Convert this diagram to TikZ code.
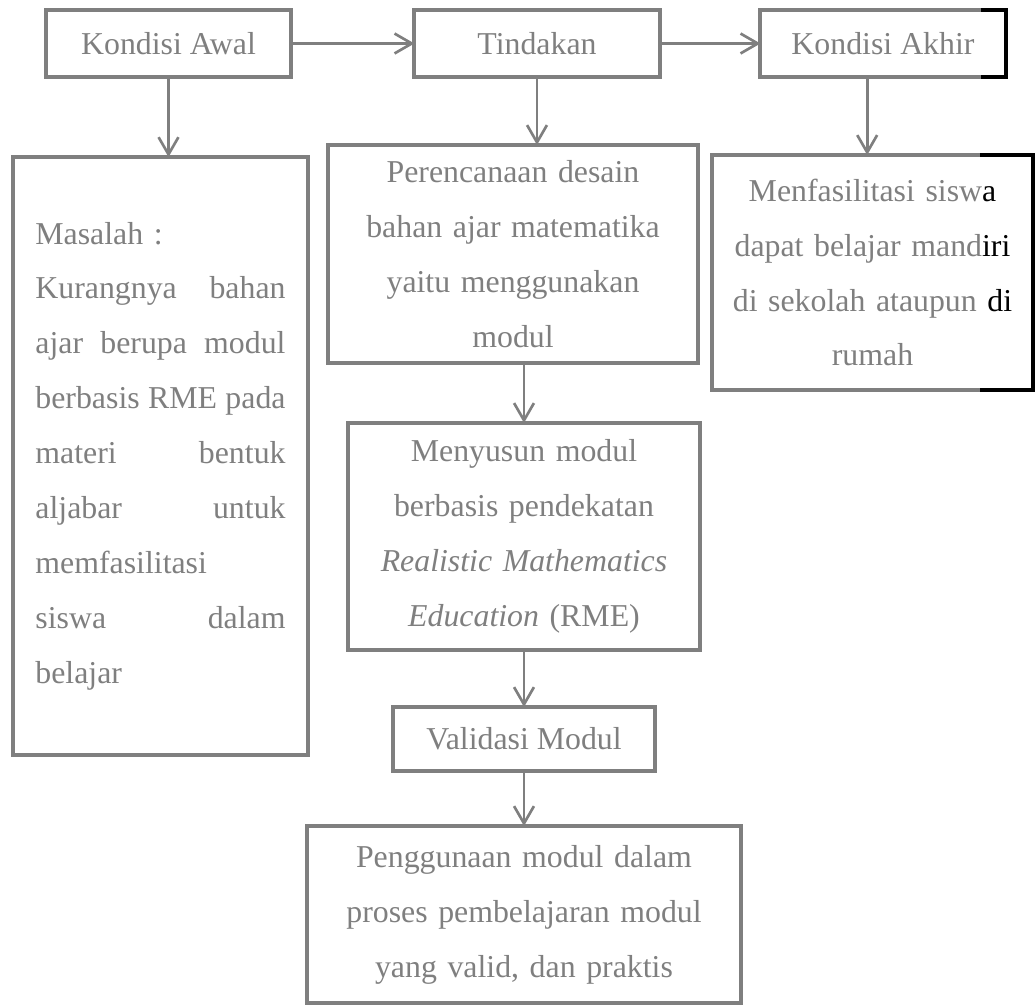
\documentclass[tikz,border=0pt]{standalone}
\usepackage{fontspec}
\setmainfont{Liberation Serif}
\usetikzlibrary{arrows.meta}
\definecolor{abu}{RGB}{127,127,127}
\tikzset{
    block/.style = {draw=abu,
                    rectangle,
                    line width=1.5pt,
                    outer sep=0pt,
                    text=abu,
                    align=center,
                    font=\fontsize{12}{20.7}\selectfont
    },
    panah/.style = {draw=abu, line width=1pt, ->}
}
\newcommand{\rata}[1]{\leavevmode\hbox to 94.3pt{#1}}

\begin{document}
\begin{tikzpicture}[x=0.377pt, y=-0.377pt, >={Straight Barb[length=6.5pt,width=7.5pt]}]
    \useasboundingbox (0,0) rectangle (1035,1007);

    \node [block, minimum width=92.4pt, minimum height=24.9pt] (awal)     at (168.5,43.5) {Kondisi Awal};
    \node [block, minimum width=92.4pt, minimum height=24.9pt] (tindakan) at (537,43.5)   {Tindakan};
    \node [block, minimum width=92.4pt, minimum height=24.9pt] (akhir)    at (883,43.5)   {Kondisi Akhir};

    \node [block, minimum width=111.2pt, minimum height=225.4pt, text width=94.3pt, align=left] (masalah) at (160.5,456)
        {Masalah :\\
         \rata{Kurangnya\hfill bahan}\\
         \rata{ajar\hfill berupa\hfill modul}\\
         \rata{berbasis\hfill RME\hfill pada}\\
         \rata{materi\hfill bentuk}\\
         \rata{aljabar\hfill untuk}\\
         memfasilitasi\\
         \rata{siswa\hfill dalam}\\
         belajar};
    \node [block, minimum width=139.5pt, minimum height=82.2pt, text width=125pt] (rencana) at (513,254)
        {Perencanaan desain\\ bahan ajar matematika\\ yaitu menggunakan\\ modul};
    \node [block, minimum width=121pt, minimum height=88.6pt, text width=110pt] (hasil) at (872.5,272.5)
        {Menfasilitasi sisw{\color{black}a}\\ dapat belajar mand{\color{black}iri}\\ di sekolah ataupun {\color{black}di}\\ rumah};
    \node [block, minimum width=132.7pt, minimum height=85.6pt, text width=120pt] (susun) at (524,536.5)
        {Menyusun modul\\ berbasis pendekatan\\ \textit{Realistic Mathematics}\\ \textit{Education} (RME)};
    \node [block, minimum width=98.8pt, minimum height=24.1pt] (validasi) at (524,739) {Validasi Modul};
    \node [block, minimum width=163.6pt, minimum height=66.7pt, text width=150pt] (guna) at (524,914.5)
        {Penggunaan modul dalam\\ proses pembelajaran modul\\ yang valid, dan praktis};

    % sisi kanan yang hitam
    \draw[black, line width=1.5pt] ([xshift=-9.4pt]akhir.north east) -- (akhir.north east)
        -- (akhir.south east) -- ([xshift=-9.4pt]akhir.south east);
    \draw[black, line width=1.5pt] ([xshift=-20pt]hasil.north east) -- (hasil.north east)
        -- (hasil.south east) -- ([xshift=-20pt]hasil.south east);

    \draw[panah] (awal.east) -- (awal.east -| tindakan.west);
    \draw[panah] (tindakan.east) -- (tindakan.east -| akhir.west);
    \draw[panah] (awal.south) -- (awal.south |- masalah.north);
    \draw[panah] (tindakan.south) -- (tindakan.south |- rencana.north);
    \draw[panah] ([xshift=-2pt]hasil.north |- akhir.south) -- ([xshift=-2pt]hasil.north);
    \draw[panah] (susun.north |- rencana.south) -- (susun.north);
    \draw[panah] (susun.south) -- (validasi.north);
    \draw[panah] (validasi.south) -- (guna.north);
\end{tikzpicture}
\end{document}
